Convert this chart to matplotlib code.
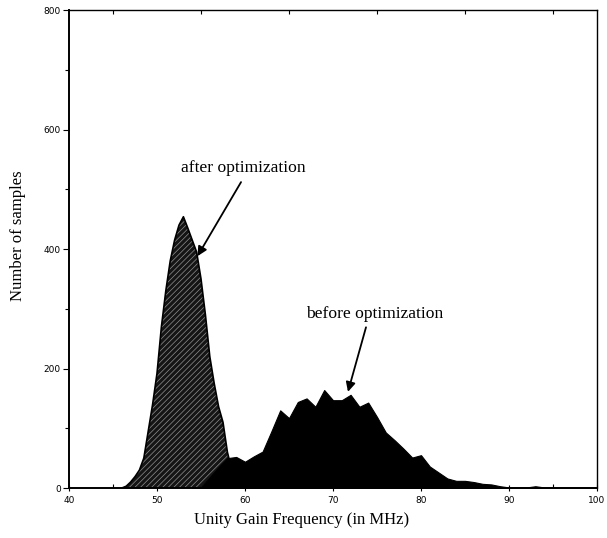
import numpy as np
import matplotlib
matplotlib.use("Agg")
import matplotlib.pyplot as plt
from matplotlib.ticker import MultipleLocator

# after optimization: 0.5 MHz steps
after_freq = [46, 46.5, 47, 47.5, 48, 48.5, 49, 49.5, 50, 50.5, 51, 51.5, 52, 52.5,
              53, 53.5, 54, 54.5, 55, 55.5, 56, 56.5, 57, 57.5, 58, 58.5, 59, 59.5, 60]
after_count = [0, 3, 10, 19, 30, 50, 95, 140, 192, 270, 330, 380, 415, 440,
               454, 435, 415, 395, 350, 290, 220, 175, 136, 110, 60, 30, 12, 3, 0]

# before optimization: 1 MHz steps
before_freq = [54, 55, 56, 57, 58, 59, 60, 61, 62, 63, 64, 65, 66, 67, 68, 69, 70,
               71, 72, 73, 74, 75, 76, 77, 78, 79, 80, 81, 82, 83, 84, 85, 86, 87,
               88, 89, 90, 91, 92, 93, 94, 95, 96, 97, 98, 99, 100]
before_count = [0, 2, 18, 35, 50, 52, 44, 53, 61, 95, 130, 117, 144, 150, 136, 164, 147,
                147, 156, 136, 143, 119, 93, 80, 66, 51, 55, 36, 26, 16, 12, 12, 10, 7,
                6, 3, 1, 1, 1, 3, 1, 1, 1, 1, 1, 1, 1]

# annotations: label position, arrow tail, arrow head (data coords)
labels = ["after optimization", "before optimization"]
label_pos = [(59.8, 536), (74.7, 291)]
arrow_tail = [(59.55, 512), (73.75, 269)]
arrow_head = [(54.6, 388), (71.7, 161)]

serif = "Liberation Serif"
plt.rcParams["hatch.linewidth"] = 0.5

fig = plt.figure(figsize=(6.07, 5.38), dpi=100)
ax = fig.add_axes([0.1137, 0.0929, 0.8698, 0.8885])

# hatched "after" area: dark fill with light hatch lines
ax.fill_between(after_freq, after_count, 0, facecolor="#151515", edgecolor="#909090",
                hatch="//////", linewidth=0, zorder=2)
ax.plot(after_freq, after_count, color="black", lw=1.2, zorder=3)

# solid black "before" area on top
ax.fill_between(before_freq, before_count, 0, facecolor="black", edgecolor="black",
                linewidth=0.8, zorder=4)

ax.set_xlim(40, 100)
ax.set_ylim(0, 800)

ax.xaxis.set_major_locator(MultipleLocator(10))
ax.xaxis.set_minor_locator(MultipleLocator(5))
ax.yaxis.set_major_locator(MultipleLocator(200))
ax.yaxis.set_minor_locator(MultipleLocator(100))

ax.tick_params(axis="y", which="major", direction="out", length=4, width=0.8,
               labelsize=6.5, pad=2)
ax.tick_params(axis="y", which="minor", direction="out", length=3, width=0.8)
ax.tick_params(axis="x", which="major", direction="inout", length=5, width=0.8,
               labelsize=6.5, pad=3, top=False)
ax.tick_params(axis="x", which="minor", direction="in", length=3, width=0.8, top=True)

for side in ["left", "bottom"]:
    ax.spines[side].set_linewidth(1.4)
for side in ["top", "right"]:
    ax.spines[side].set_linewidth(1.0)

fig.text(0.496, 0.0335, "Unity Gain Frequency (in MHz)", fontfamily=serif, fontsize=12,
         ha="center", va="center")
fig.text(0.0297, 0.561, "Number of samples", fontfamily=serif, fontsize=12,
         rotation=90, ha="center", va="center")

for txt, pos, tail, head in zip(labels, label_pos, arrow_tail, arrow_head):
    ax.text(pos[0], pos[1], txt, fontfamily=serif, fontsize=12.6,
            ha="center", va="center")
    ax.annotate("", xy=head, xytext=tail,
                arrowprops=dict(arrowstyle="-|>", color="black", lw=1.3,
                                mutation_scale=14, shrinkA=0, shrinkB=0))

fig.savefig("out.png", dpi=100)
